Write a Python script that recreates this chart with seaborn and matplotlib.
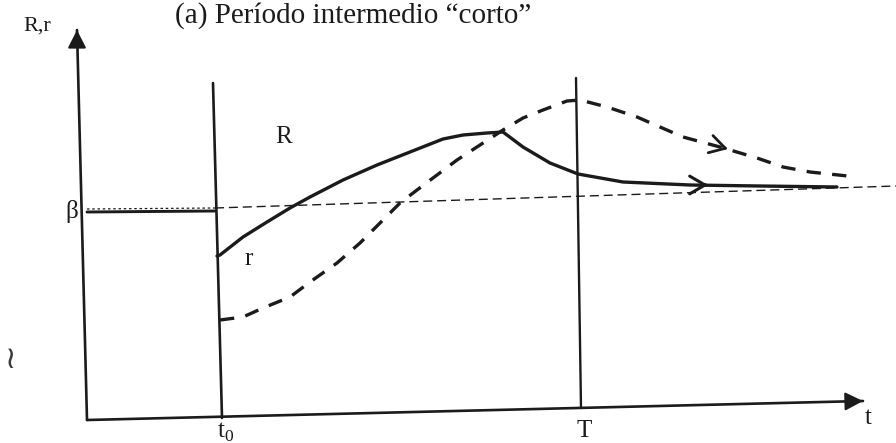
import matplotlib
matplotlib.use("Agg")
import matplotlib.pyplot as plt
import seaborn as sns

# Short rate r after the shock at t0 (solid line)
t_r = [130, 133, 156, 180, 203, 223, 256, 290, 323, 356, 376, 400, 416,
       436, 463, 491, 536, 603, 673, 750]
r_path = [164, 165, 183, 198, 212, 223, 240, 255, 268, 281, 285, 287, 288,
          273, 257, 246, 238, 235, 234, 233]

# Long rate R after the shock (dashed line)
t_R = [133, 156, 176, 203, 223, 250, 273, 293, 313, 330, 350, 370, 393, 416,
       436, 456, 480, 493, 520, 550, 573, 596, 633, 670, 696, 723, 770]
R_path = [100, 103, 112, 123, 138, 157, 177, 197, 217, 230, 245, 260, 275, 290,
          302, 310, 319, 320, 313, 303, 293, 283, 273, 262, 253, 248, 243]

# Stationary level beta: r (solid) and R (dotted) before t0, then its drift
t_pre = [0, 128]
r_pre = [208, 209]
R_pre = [211, 212]
t_beta = [128, 809]
beta_drift = [212, 234]

# Coordinate axes and the two time markers t0 and T
x_axis_t = [0, 776]
x_axis_y = [0, 19]
y_axis_t = [0, -10]
y_axis_y = [0, 390]
t0_line_t = [135, 126]
t0_line_y = [2, 337]
T_line_t = [494, 489]
T_line_y = [12, 342]

title = "(a) Período intermedio \u201ccorto\u201d"

sns.set_style("white")
plt.rcParams["font.family"] = ["Liberation Serif", "DejaVu Serif"]
plt.rcParams["mathtext.fontset"] = "custom"
plt.rcParams["mathtext.rm"] = "Liberation Serif"

ink = "#1b1b1b"

fig = plt.figure(figsize=(8.96, 4.43), dpi=100)
ax = fig.add_axes([0, 0, 1, 1])
ax.set_xlim(-87, 809)
ax.set_ylim(-23, 420)
ax.axis("off")

# axes
sns.lineplot(x=x_axis_t, y=x_axis_y, ax=ax, color=ink, lw=1.9, sort=False, estimator=None)
sns.lineplot(x=y_axis_t, y=y_axis_y, ax=ax, color=ink, lw=1.9, sort=False, estimator=None)
for tip, base in [((x_axis_t[1], x_axis_y[1]), (x_axis_t[1] - 10, x_axis_y[1] - 0.25)),
                  ((y_axis_t[1], y_axis_y[1]), (y_axis_t[1], y_axis_y[1] - 10))]:
    ax.annotate("", xy=tip, xytext=base,
                arrowprops=dict(arrowstyle="-|>,head_length=0.55,head_width=0.28",
                                color=ink, lw=1.5, mutation_scale=20,
                                shrinkA=0, shrinkB=0))

# time markers
sns.lineplot(x=t0_line_t, y=t0_line_y, ax=ax, color=ink, lw=1.9, sort=False, estimator=None)
sns.lineplot(x=T_line_t, y=T_line_y, ax=ax, color=ink, lw=1.7, sort=False, estimator=None)

# stationary level before the shock and its drift
sns.lineplot(x=t_pre, y=r_pre, ax=ax, color=ink, lw=2.1, sort=False, estimator=None)
sns.lineplot(x=t_pre, y=R_pre, ax=ax, color=ink, lw=0.9, sort=False, estimator=None,
             linestyle=(0, (2.0, 2.2)))
sns.lineplot(x=t_beta, y=beta_drift, ax=ax, color=ink, lw=1.0, sort=False, estimator=None,
             linestyle=(0, (6.5, 3.5)))

# r and R paths
sns.lineplot(x=t_r, y=r_path, ax=ax, color=ink, lw=2.4, sort=False, estimator=None,
             solid_joinstyle="round", solid_capstyle="round")
sns.lineplot(x=t_R, y=R_path, ax=ax, color=ink, lw=2.4, sort=False, estimator=None,
             linestyle=(0, (4.3, 3.4)))

# direction chevrons on the paths
chev = "->,head_length=0.55,head_width=0.32"
ax.annotate("", xy=(621, 235), xytext=(617, 235),
            arrowprops=dict(arrowstyle=chev, color=ink, lw=2.2, mutation_scale=20,
                            shrinkA=0, shrinkB=0))
ax.annotate("", xy=(641, 271), xytext=(637.4, 272),
            arrowprops=dict(arrowstyle=chev, color=ink, lw=2.0, mutation_scale=20,
                            shrinkA=0, shrinkB=0))

# labels
lab = dict(color=ink, fontsize=18, ha="center", va="center")
ax.text(-50, 394, "R,r", **dict(lab, fontsize=16))
ax.text(197, 283, "R", **lab)
ax.text(162, 161, "r", **lab)
ax.text(-15, 209, "\u03b2", **lab)
ax.text(139, -12, r"t$_\mathregular{0}$", **lab)
ax.text(497, -11, "T", **lab)
ax.text(781, 2, "t", **lab)
ax.text(-76, 61, "\u2240", color="#3a3a3a", fontsize=22, ha="center", va="center",
        family=["DejaVu Sans"])
ax.text(88, 397, title, color=ink, fontsize=21, ha="left", va="baseline")

fig.savefig("out.png", dpi=100)
